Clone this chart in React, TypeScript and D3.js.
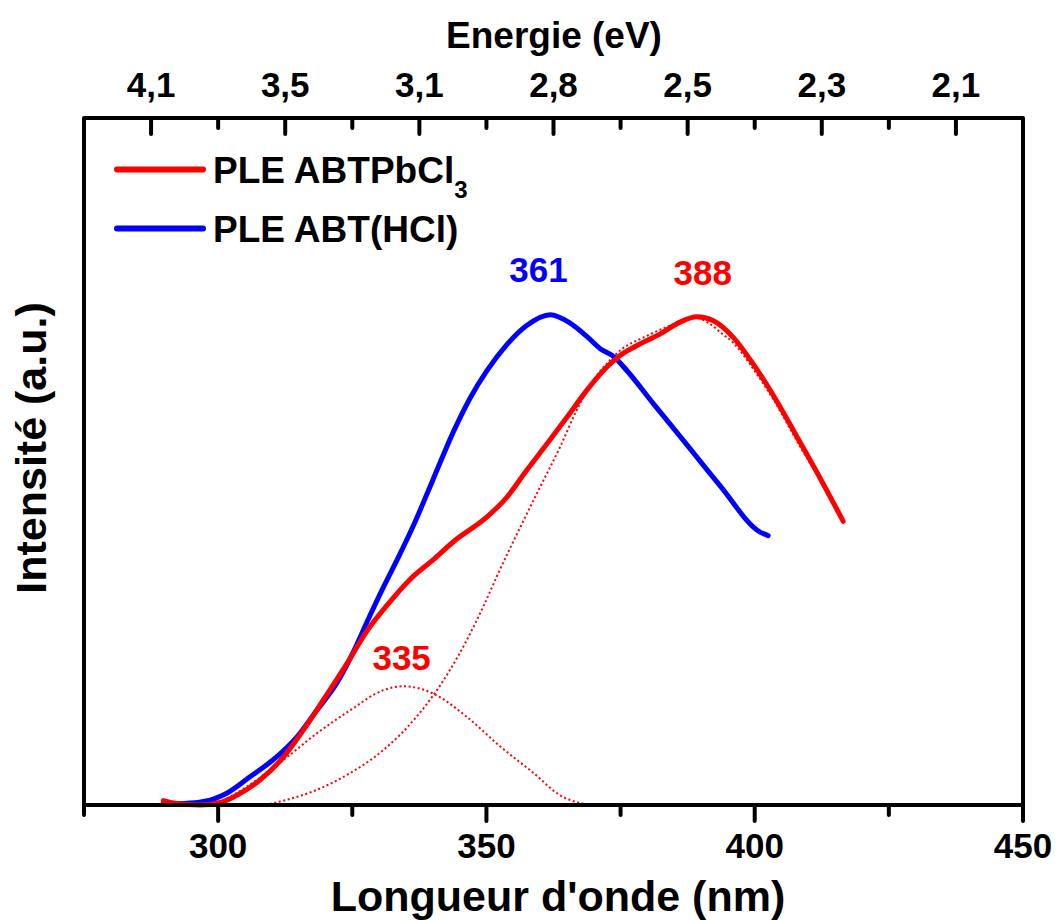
import React from "react";
import * as d3 from "d3";

// ---- Data (wavelength nm, intensity a.u.) ----
const blueNm = [289.8, 293.5, 298.5, 301.6, 306.0, 310.9, 314.7, 318.4, 322.1, 325.2, 327.7, 330.8, 333.6, 336.5, 340.0, 343.9, 347.0, 350.1, 353.8, 357.5, 361.9, 365.6, 368.7, 371.2, 373.7, 376.2, 381.1, 387.3, 393.6, 401.0, 402.5];
const blueVal = [0.004, 0.003, 0.010, 0.024, 0.058, 0.098, 0.139, 0.193, 0.248, 0.312, 0.372, 0.444, 0.505, 0.572, 0.662, 0.762, 0.830, 0.885, 0.938, 0.977, 0.999, 0.982, 0.955, 0.930, 0.914, 0.885, 0.818, 0.735, 0.650, 0.556, 0.549];

const redNm = [289.8, 292.3, 296.6, 300.4, 303.5, 307.8, 312.2, 315.9, 319.6, 324.0, 327.7, 332.1, 335.8, 340.1, 343.9, 350.1, 353.8, 357.5, 361.3, 365.0, 368.7, 372.4, 374.9, 378.0, 382.4, 386.1, 389.2, 392.3, 396.0, 399.7, 403.4, 407.9, 412.2, 416.5];
const redVal = [0.009, 0.003, 0.000, 0.005, 0.020, 0.051, 0.098, 0.153, 0.214, 0.288, 0.354, 0.415, 0.460, 0.500, 0.537, 0.587, 0.627, 0.682, 0.736, 0.790, 0.845, 0.892, 0.916, 0.936, 0.960, 0.984, 0.995, 0.987, 0.953, 0.899, 0.836, 0.750, 0.666, 0.578];

const fit335Nm = [299.4, 305.3, 312.2, 318.4, 324.6, 330.8, 334.5, 340.1, 346.3, 352.6, 358.8, 363.7, 369.3];
const fit335Val = [0.0, 0.037, 0.092, 0.146, 0.193, 0.234, 0.242, 0.227, 0.180, 0.119, 0.065, 0.020, 0.0];

const fit388Nm = [308.8, 318.4, 324.6, 330.8, 337.0, 343.2, 349.4, 351.9, 356.3, 360.0, 363.7, 366.8, 369.9, 372.4, 374.9, 379.9, 384.9, 388.6, 391.7, 393.6, 396.0, 399.7, 403.4, 407.9, 412.2, 416.5];
const fit388Val = [0.0, 0.031, 0.065, 0.112, 0.180, 0.275, 0.404, 0.465, 0.566, 0.648, 0.729, 0.804, 0.865, 0.899, 0.926, 0.956, 0.980, 0.994, 0.980, 0.963, 0.942, 0.889, 0.828, 0.741, 0.661, 0.574];

const bottomMajor = [300, 350, 400, 450];
const bottomMinor = [275, 325, 375, 425];
const topMajorNm = [287.5, 312.5, 337.5, 362.5, 387.5, 412.5, 437.5];
const topMajorLabels = ["4,1", "3,5", "3,1", "2,8", "2,5", "2,3", "2,1"];
const topMinorNm = [300, 325, 350, 375, 400, 425];

const peakLabels = [
  { text: "361", nm: 359.7, val: 1.066, color: "#0000ff" },
  { text: "388", nm: 390.3, val: 1.06, color: "#ff0000" },
  { text: "335", nm: 334.2, val: 0.275, color: "#ff0000" },
];

const RED = "#ff0000";
const BLUE = "#0000ff";
const FONT = "'Liberation Sans', Arial, Helvetica, sans-serif";

export default function App() {
  const left = 84, right = 1023, top = 118, bottom = 805;
  const x = d3.scaleLinear().domain([275, 450]).range([left, right]);
  const y = d3.scaleLinear().domain([0, 1.4]).range([bottom, top]);

  const line = d3
    .line<[number, number]>()
    .x((d) => x(d[0]))
    .y((d) => y(d[1]))
    .curve(d3.curveMonotoneX);

  const zip = (a: number[], b: number[]) => a.map((v, i) => [v, b[i]] as [number, number]);

  const majorLen = 16;
  const minorLen = 10;

  return (
    <svg
      width={1057}
      height={920}
      style={{ position: "absolute", left: 0, top: 0, display: "block", background: "#fff" }}
      fontFamily={FONT}
      fontWeight="bold"
    >
      <rect x={0} y={0} width={1057} height={920} fill="#fff" />

      {/* fitted gaussians (dotted) */}
      <path d={line(zip(fit335Nm, fit335Val)) || ""} fill="none" stroke={RED} strokeWidth={2} strokeDasharray="2 2.6" />
      <path d={line(zip(fit388Nm, fit388Val)) || ""} fill="none" stroke={RED} strokeWidth={2} strokeDasharray="2 2.6" />

      {/* spectra */}
      <path d={line(zip(blueNm, blueVal)) || ""} fill="none" stroke={BLUE} strokeWidth={5} strokeLinejoin="round" strokeLinecap="round" />
      <path d={line(zip(redNm, redVal)) || ""} fill="none" stroke={RED} strokeWidth={5} strokeLinejoin="round" strokeLinecap="round" />

      {/* frame */}
      <rect x={left} y={top} width={right - left} height={bottom - top} fill="none" stroke="#000" strokeWidth={4} strokeLinejoin="round" />

      {/* bottom ticks (outward) */}
      {bottomMajor.map((t) => (
        <line key={"bM" + t} x1={x(t)} x2={x(t)} y1={bottom} y2={bottom + majorLen} stroke="#000" strokeWidth={4} strokeLinecap="round" />
      ))}
      {bottomMinor.map((t) => (
        <line key={"bm" + t} x1={x(t)} x2={x(t)} y1={bottom} y2={bottom + minorLen} stroke="#000" strokeWidth={4} strokeLinecap="round" />
      ))}
      {bottomMajor.map((t) => (
        <text key={"bl" + t} x={x(t)} y={858} textAnchor="middle" fontSize={35} fill="#000">
          {t}
        </text>
      ))}

      {/* top ticks (inward) */}
      {topMajorNm.map((t) => (
        <line key={"tM" + t} x1={x(t)} x2={x(t)} y1={top} y2={top + majorLen} stroke="#000" strokeWidth={4} strokeLinecap="round" />
      ))}
      {topMinorNm.map((t) => (
        <line key={"tm" + t} x1={x(t)} x2={x(t)} y1={top} y2={top + minorLen} stroke="#000" strokeWidth={4} strokeLinecap="round" />
      ))}
      {topMajorNm.map((t, i) => (
        <text key={"tl" + t} x={x(t)} y={97} textAnchor="middle" fontSize={35} fill="#000">
          {topMajorLabels[i]}
        </text>
      ))}

      {/* axis titles */}
      <text x={554} y={48} textAnchor="middle" fontSize={37} fill="#000">
        Energie (eV)
      </text>
      <text x={558} y={911} textAnchor="middle" fontSize={43} fill="#000">
        Longueur d'onde (nm)
      </text>
      <text transform="translate(46,448) rotate(-90)" textAnchor="middle" fontSize={43} fill="#000">
        Intensité (a.u.)
      </text>

      {/* legend */}
      <line x1={117} x2={203} y1={169.5} y2={169.5} stroke={RED} strokeWidth={6} strokeLinecap="round" />
      <text x={213} y={182.5} fontSize={37} fill="#000">
        PLE ABTPbCl
        <tspan fontSize={24} dy={15}>3</tspan>
      </text>
      <line x1={117} x2={203} y1={228.5} y2={228.5} stroke={BLUE} strokeWidth={6} strokeLinecap="round" />
      <text x={213} y={242} fontSize={37} fill="#000">
        PLE ABT(HCl)
      </text>

      {/* peak labels */}
      {peakLabels.map((p) => (
        <text key={p.text} x={x(p.nm)} y={y(p.val)} textAnchor="middle" fontSize={35} fill={p.color}>
          {p.text}
        </text>
      ))}
    </svg>
  );
}
